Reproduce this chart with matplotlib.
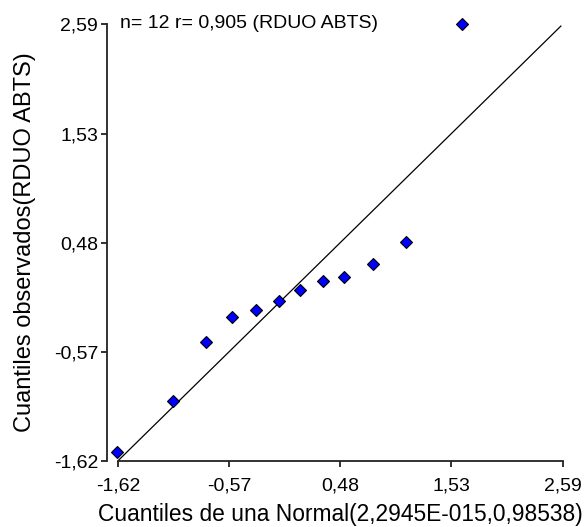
import numpy as np
import matplotlib
matplotlib.use("Agg")
import matplotlib.pyplot as plt

plt.rcParams["font.family"] = ["Liberation Sans", "DejaVu Sans"]

# ── Data: normal quantiles vs observed quantiles ──────────
theo_q = [-1.63, -1.10, -0.79, -0.54, -0.32, -0.10,
          0.10, 0.32, 0.52, 0.79, 1.10, 1.63]
obs_q = [-1.535, -1.046, -0.474, -0.239, -0.169, -0.079,
         0.027, 0.114, 0.150, 0.275, 0.487, 2.586]
ref_line = [-1.62, 2.57]
tick_vals = [-1.62, -0.57, 0.48, 1.53, 2.59]
tick_labels = ["-1,62", "-0,57", "0,48", "1,53", "2,59"]
note = "n= 12 r= 0,905 (RDUO ABTS)"

fig = plt.figure(figsize=(5.87, 5.27), dpi=100)
ax = fig.add_axes([118.3 / 587, (527 - 460.5) / 527, 444.7 / 587, 436.5 / 527])

ax.plot(ref_line, ref_line, color="black", lw=0.9, zorder=2)
ax.plot(theo_q, obs_q, linestyle="none", marker="D", markersize=5.8,
        markerfacecolor="#0000ff", markeredgecolor="black",
        markeredgewidth=0.8, clip_on=False, zorder=3)

ax.set_xlim(-1.62, 2.59)
ax.set_ylim(-1.62, 2.59)
ax.set_xticks(tick_vals)
ax.set_xticklabels(tick_labels)
ax.set_yticks(tick_vals)
ax.set_yticklabels(tick_labels)

for s in ["top", "right"]:
    ax.spines[s].set_visible(False)
ax.spines["left"].set_position(("outward", 8))
for s in ["left", "bottom"]:
    ax.spines[s].set_linewidth(1.3)
    ax.spines[s].set_color("#222222")

ax.tick_params(axis="both", length=4, width=1.3, color="#222222",
               labelsize=14, labelcolor="black")
ax.tick_params(axis="x", pad=8.5)
ax.tick_params(axis="y", pad=2.5)

ax.text(-1.60, 2.59, note, fontsize=14, va="center", ha="left")

ax.set_xlabel("Cuantiles de una Normal(2,2945E-015,0,98538)", fontsize=16.4,
              labelpad=6)
ax.set_ylabel("Cuantiles observados(RDUO ABTS)", fontsize=17, labelpad=13)

fig.savefig("out.png", dpi=100)
